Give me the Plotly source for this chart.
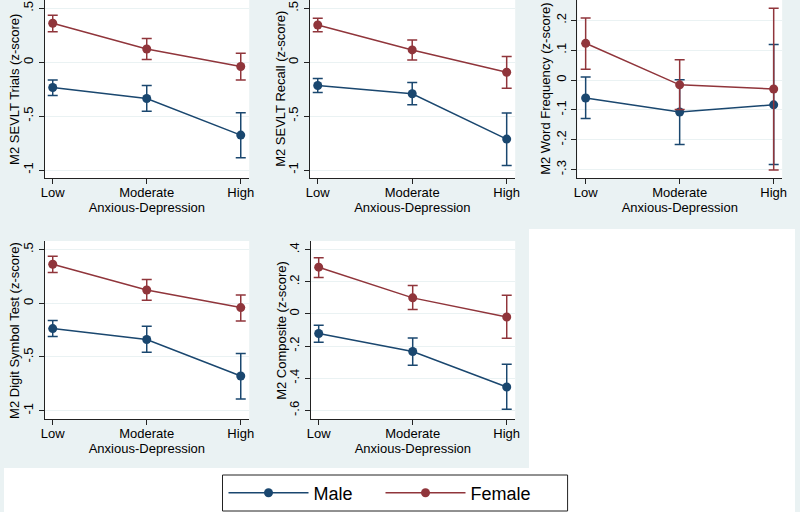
import plotly.graph_objects as go

categories = ["Low", "Moderate", "High"]
x_pos = [1, 2, 3]

# Panel titles (y-axis titles)
titles = [
    "M2 SEVLT Trials (z-score)",
    "M2 SEVLT Recall (z-score)",
    "M2 Word Frequency (z-score)",
    "M2 Digit Symbol Test (z-score)",
    "M2 Composite (z-score)",
]

# SEVLT Trials
trials_male = [-0.235, -0.337, -0.676]
trials_male_lo = [-0.309, -0.454, -0.886]
trials_male_hi = [-0.164, -0.216, -0.469]
trials_female = [0.361, 0.123, -0.040]
trials_female_lo = [0.283, 0.024, -0.164]
trials_female_hi = [0.435, 0.219, 0.083]

# SEVLT Recall
recall_male = [-0.216, -0.293, -0.713]
recall_male_lo = [-0.281, -0.395, -0.957]
recall_male_hi = [-0.151, -0.188, -0.472]
recall_female = [0.345, 0.114, -0.093]
recall_female_lo = [0.283, 0.021, -0.241]
recall_female_hi = [0.407, 0.206, 0.052]

# Word Frequency
wf_male = [-0.060, -0.107, -0.083]
wf_male_lo = [-0.129, -0.216, -0.283]
wf_male_hi = [0.010, 0.001, 0.119]
wf_female = [0.123, -0.016, -0.030]
wf_female_lo = [0.036, -0.099, -0.301]
wf_female_hi = [0.208, 0.068, 0.240]

# Digit Symbol Test
ds_male = [-0.236, -0.338, -0.677]
ds_male_lo = [-0.310, -0.457, -0.892]
ds_male_hi = [-0.161, -0.214, -0.469]
ds_female = [0.363, 0.124, -0.040]
ds_female_lo = [0.286, 0.028, -0.165]
ds_female_hi = [0.438, 0.221, 0.077]

# Composite
comp_male = [-0.122, -0.234, -0.455]
comp_male_lo = [-0.176, -0.320, -0.594]
comp_male_hi = [-0.070, -0.150, -0.313]
comp_female = [0.291, 0.100, -0.019]
comp_female_lo = [0.227, 0.027, -0.151]
comp_female_hi = [0.349, 0.177, 0.117]

# y ticks per panel
ticks_a = [-1, -0.5, 0, 0.5]
ticklabels_a = ["-1", "-.5", "0", ".5"]
ticks_wf = [-0.3, -0.2, -0.1, 0, 0.1, 0.2]
ticklabels_wf = ["-.3", "-.2", "-.1", "0", ".1", ".2"]
ticks_comp = [-0.6, -0.4, -0.2, 0, 0.2, 0.4]
ticklabels_comp = ["-.6", "-.4", "-.2", "0", ".2", ".4"]

panels = [
    (trials_male, trials_male_lo, trials_male_hi, trials_female, trials_female_lo, trials_female_hi,
     ticks_a, ticklabels_a, [-1.074, 0.577]),
    (recall_male, recall_male_lo, recall_male_hi, recall_female, recall_female_lo, recall_female_hi,
     ticks_a, ticklabels_a, [-1.074, 0.577]),
    (wf_male, wf_male_lo, wf_male_hi, wf_female, wf_female_lo, wf_female_hi,
     ticks_wf, ticklabels_wf, [-0.328, 0.268]),
    (ds_male, ds_male_lo, ds_male_hi, ds_female, ds_female_lo, ds_female_hi,
     ticks_a, ticklabels_a, [-1.078, 0.580]),
    (comp_male, comp_male_lo, comp_male_hi, comp_female, comp_female_lo, comp_female_hi,
     ticks_comp, ticklabels_comp, [-0.654, 0.454]),
]

W, H = 800, 512
# plot-area pixel boxes (left, right, top, bottom)
boxes = [
    (41, 248, 0, 178),
    (309, 517, 0, 178),
    (580, 787, 0, 178),
    (41, 248, 241, 419),
    (310, 517, 241, 419),
]
title_offsets = [31, 30, 33, 31, 30]

NAVY = "#1A476F"
MAROON = "#90353B"
BG = "#EAF2F3"
FONT = "Liberation Sans, Arial, sans-serif"

fig = go.Figure()
layout = dict(
    width=W, height=H,
    margin=dict(l=0, r=0, t=0, b=0),
    paper_bgcolor=BG,
    plot_bgcolor="white",
    font=dict(family=FONT, size=13, color="black"),
    showlegend=True,
)
annotations = []

for i, (p, box) in enumerate(zip(panels, boxes)):
    m, mlo, mhi, f, flo, fhi, tv, tt, yr = p
    n = i + 1
    xa = "x" if n == 1 else f"x{n}"
    ya = "y" if n == 1 else f"y{n}"
    for name, vals, lo, hi, col in [("Male", m, mlo, mhi, NAVY), ("Female", f, flo, fhi, MAROON)]:
        fig.add_trace(go.Scatter(
            x=x_pos, y=vals, mode="lines+markers", name=name,
            line=dict(color=col, width=1.5),
            marker=dict(color=col, size=9),
            error_y=dict(type="data", symmetric=False,
                         array=[h - v for h, v in zip(hi, vals)],
                         arrayminus=[v - l for v, l in zip(vals, lo)],
                         color=col, thickness=1.5, width=5),
            xaxis=xa, yaxis=ya, showlegend=(n == 1), legendgroup=name,
        ))
    l, r, t, b = box
    layout["xaxis" if n == 1 else f"xaxis{n}"] = dict(
        domain=[l / W, r / W], anchor=ya, range=[0.913, 3.09],
        tickvals=x_pos, ticktext=categories, ticks="outside", ticklen=5,
        tickcolor="#222", showline=True, linecolor="#222", linewidth=1,
        showgrid=False, zeroline=False, tickfont=dict(size=13),
        ticklabelstandoff=-3,
        title=dict(text="Anxious-Depression", font=dict(size=13), standoff=2),
    )
    layout["yaxis" if n == 1 else f"yaxis{n}"] = dict(
        domain=[1 - b / H, 1 - t / H], anchor=xa, range=yr,
        tickvals=tv, ticktext=tt, tickangle=-90, ticks="outside", ticklen=5,
        tickcolor="#222", showline=True, linecolor="#222", linewidth=1,
        showgrid=True, gridcolor=BG, gridwidth=1, zeroline=False,
        tickfont=dict(size=13),
    )
    annotations.append(dict(
        text=titles[i], textangle=-90, showarrow=False,
        xref="paper", yref="paper", x=(l - title_offsets[i]) / W, y=1 - (t + b) / 2 / H,
        xanchor="center", yanchor="middle", font=dict(size=13, family=FONT, color="black"),
    ))

layout["annotations"] = annotations
layout["shapes"] = [
    dict(type="rect", xref="paper", yref="paper", x0=0, x1=1, y0=0, y1=1 - 468 / H,
         fillcolor="white", line=dict(width=0), layer="below"),
    dict(type="rect", xref="paper", yref="paper", x0=531 / W, x1=1, y0=0, y1=1 - 229 / H,
         fillcolor="white", line=dict(width=0), layer="below"),
    # legend frame
    dict(type="rect", xref="paper", yref="paper", x0=221 / W, x1=570 / W,
         y0=1 - 511 / H, y1=1 - 475 / H,
         fillcolor="white", line=dict(width=1, color="#222"), layer="below"),
]
layout["legend"] = dict(
    orientation="h", x=222 / W, y=1 - 493 / H, xanchor="left", yanchor="middle",
    bgcolor="rgba(0,0,0,0)", borderwidth=0,
    font=dict(size=18, family=FONT), entrywidth=62, itemwidth=80,
)

fig.update_layout(**layout)
fig.write_html("out.html", config={"displayModeBar": False},
               post_script="document.body.style.margin='0';document.body.style.overflow='hidden';")
